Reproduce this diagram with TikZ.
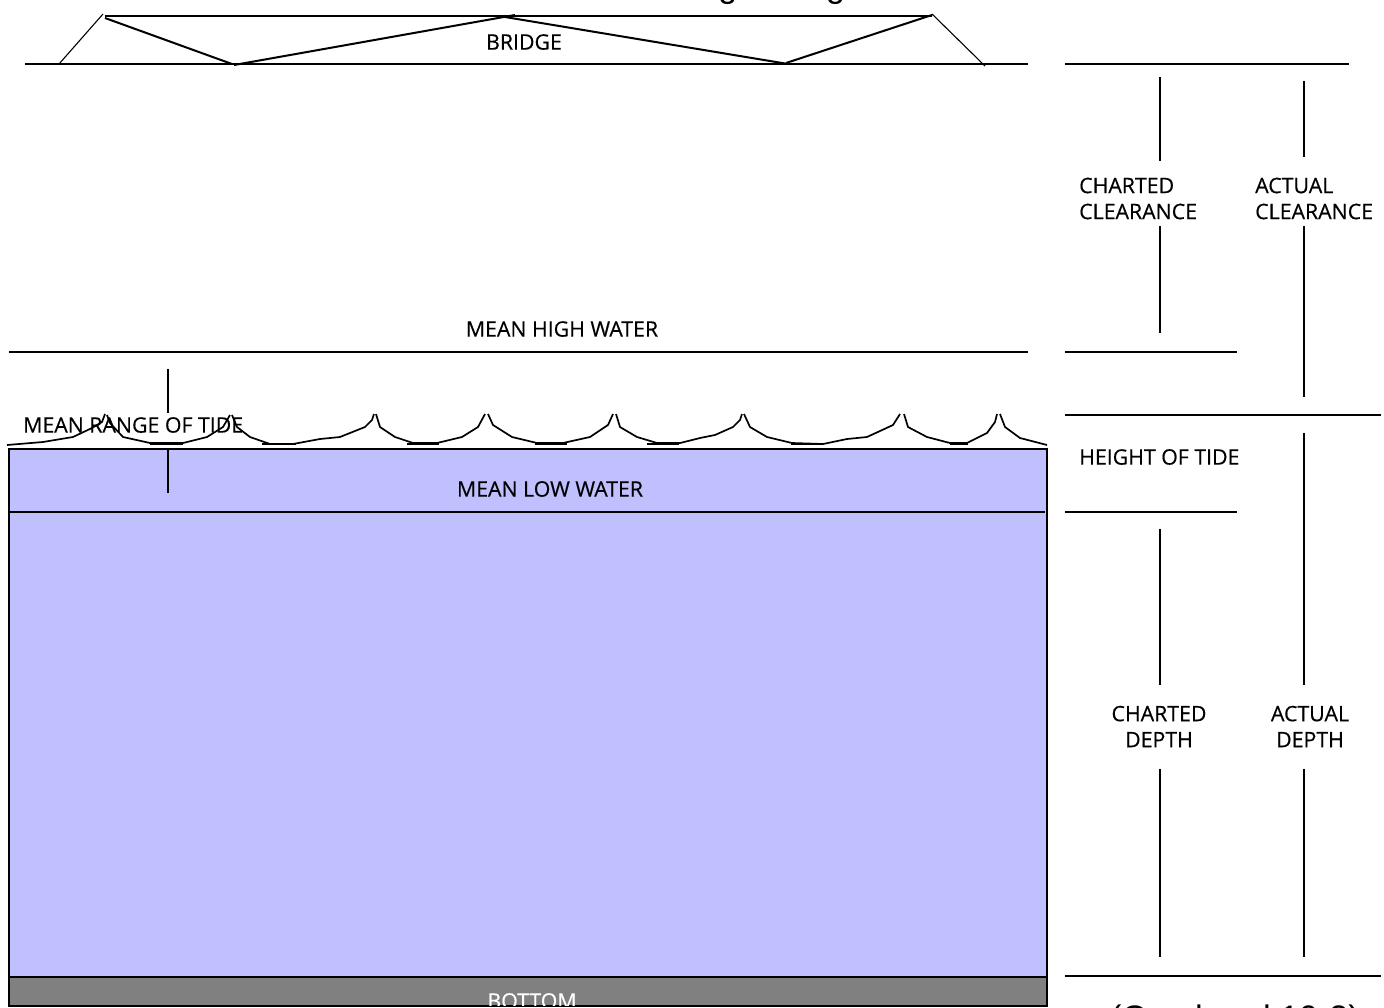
\documentclass[tikz,border=0pt]{standalone}
\usepackage{fontspec}
\setmainfont{Open Sans}
\newfontfamily\labface[FakeBold=0.4]{Open Sans}
\newfontfamily\captionface{Liberation Sans}
\definecolor{waterfill}{RGB}{192,192,255}
\definecolor{bedfill}{RGB}{128,128,128}
\tikzset{
  rule/.style={draw=black,line width=2pt},
  thinrule/.style={draw=black,line width=1.1pt},
  swell/.style={draw=black,line width=1.7pt,line join=round},
  trough/.style={draw=black,line width=2pt},
  lab/.style={font=\labface\fontsize{21.3}{26}\selectfont,inner sep=0pt,text=black},
  labl/.style={lab,anchor=west,align=left},
  labc/.style={lab,align=center},
  big/.style={font=\captionface\fontsize{34}{40}\selectfont,inner sep=0pt,anchor=base west}
}
\begin{document}
\begin{tikzpicture}[x=1pt,y=-1pt]
\useasboundingbox (0,0) rectangle (1384,1007);
\clip (0,0) rectangle (1384,1007);
% title and caption, cut by the page edge
\node[big] (title) at (593,-3) {Tide Height Diagram};
\node[big] (caption) at (1110,1029) {(Overhead 10-3)};
% water and bed
\draw[rule,fill=waterfill] (9,449) rectangle (1047,977);
\draw[rule,fill=bedfill] (9,977) rectangle (1047,1006);
\begin{scope}
\clip (9,977) rectangle (1047,1005.5);
\node[lab,text=white] (bottom) at (532,1001) {BOTTOM};
\end{scope}
% bridge
\draw[rule] (25,64) -- (1028,64);
\draw[rule] (105,16) -- (932,16);
\draw[thinrule] (103,14) -- (59,64);
\draw[rule] (105,18) -- (232,64);
\draw[rule] (234,65) -- (515,15);
\draw[rule] (505,17) -- (788,64);
\draw[rule] (786,63) -- (932,15);
\draw[thinrule] (932,14) -- (985,66);
% levels
\draw[rule] (9,352) -- (1028,352);
\draw[rule] (9,512) -- (1045,512);
\draw[rule] (168,369) -- (168,413);
\draw[rule] (168,450) -- (168,493);
% waves
\draw[swell] (7,445) -- (43,442) -- (73,437) -- (92,428) -- (102,422) -- (105,414);
\draw[swell] (107,415) -- (110,423) -- (123,437) -- (150,443) -- (183,443) -- (207,437) -- (223,427) -- (230,415);
\draw[swell] (232,415) -- (237,427) -- (250,437) -- (270,444) -- (293,444) -- (320,439) -- (340,437) -- (350,433) -- (365,427) -- (372,420) -- (374,414);
\draw[swell] (376,414) -- (380,427) -- (395,437) -- (413,443) -- (437,443) -- (462,437) -- (478,427) -- (485,414);
\draw[swell] (488,414) -- (493,425) -- (512,437) -- (537,443) -- (563,443) -- (590,437) -- (608,425) -- (613,414);
\draw[swell] (616,414) -- (620,427) -- (637,437) -- (657,443) -- (680,443) -- (700,438) -- (715,435) -- (733,427) -- (740,420) -- (742,414);
\draw[swell] (744,414) -- (750,427) -- (767,437) -- (792,443) -- (823,444) -- (847,439) -- (867,437) -- (893,425) -- (900,414);
\draw[swell] (904,414) -- (908,427) -- (927,437) -- (950,443) -- (967,443) -- (987,433) -- (995,422) -- (997,414);
\draw[swell] (1000,414) -- (1005,427) -- (1020,438) -- (1047,445);
\foreach \a/\b in {150/183,262/296,407/439,535/567,647/679,791/823,950/968}
  \draw[trough] (\a,444) -- (\b,444);
% right-hand scale
\draw[rule] (1065,64) -- (1349,64);
\draw[rule] (1065,352) -- (1237,352);
\draw[rule] (1065,415) -- (1381,415);
\draw[rule] (1065,512) -- (1237,512);
\draw[rule] (1065,976) -- (1381,976);
\draw[rule] (1160,77) -- (1160,161);
\draw[rule] (1160,226) -- (1160,333);
\draw[rule] (1160,529) -- (1160,685);
\draw[rule] (1160,769) -- (1160,957);
\draw[rule] (1304,81) -- (1304,157);
\draw[rule] (1304,226) -- (1304,397);
\draw[rule] (1304,433) -- (1304,685);
\draw[rule] (1304,769) -- (1304,957);
% labels
\node[labc] (bridge) at (524,42) {BRIDGE};
\node[labc] (mhw) at (562,329) {MEAN HIGH WATER};
\node[labl] (mrt) at (23,425) {MEAN RANGE OF TIDE};
\node[labc] (mlw) at (550,489) {MEAN LOW WATER};
\node[labl] (cc) at (1079,198.5) {CHARTED\\CLEARANCE};
\node[labl] (ac) at (1255,198.5) {ACTUAL\\CLEARANCE};
\node[labl] (hot) at (1079,457) {HEIGHT OF TIDE};
\node[labc] (cd) at (1159,726.5) {CHARTED\\DEPTH};
\node[labc] (ad) at (1310,726.5) {ACTUAL\\DEPTH};
\end{tikzpicture}
\end{document}
